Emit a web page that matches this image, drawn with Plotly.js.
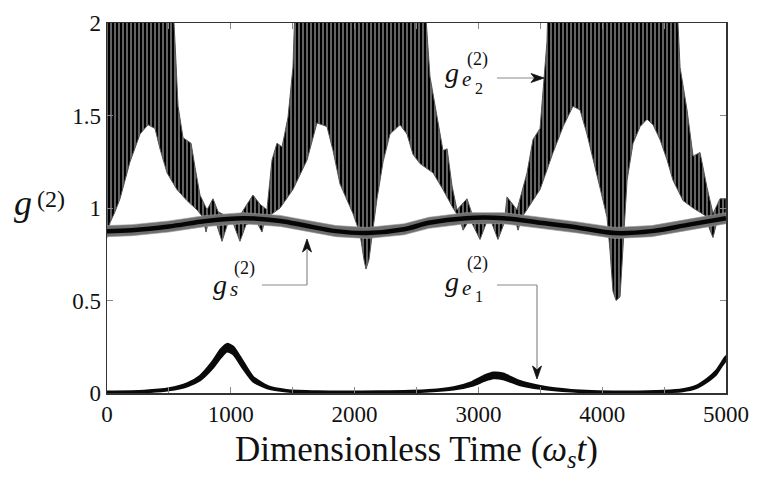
<!DOCTYPE html>
<html>
<head>
<meta charset="utf-8">
<script src="https://cdn.plot.ly/plotly-3.0.1.min.js"></script>
<style>html,body{margin:0;padding:0;background:#fff;}#chart{width:771px;height:493px;}</style>
</head>
<body>
<div id="chart"></div>
<script>
// ---- data ----
// g_e2: upper envelope of the fast oscillation (values > 2 are off-scale)
var ge2TopT = [0, 533, 549, 574, 614, 654, 679, 711, 751, 808, 856, 897, 953, 1074, 1179, 1236, 1292, 1333, 1373, 1414, 1462, 1502, 1519,
               2553, 2569, 2609, 2666, 2714, 2747, 2787, 2827, 2908, 2948, 3215, 3231, 3312, 3393, 3441, 3498, 3554, 3562,
               4605, 4629, 4685, 4734, 4790, 4847, 4895, 4952, 5000];
var ge2Top  = [2.1, 2.1, 1.9, 1.55, 1.38, 1.36, 1.35, 1.22, 1.07, 0.99, 1.05, 0.98, 0.96, 0.96, 1.07, 1.02, 0.99, 1.26, 1.35, 1.33, 1.49, 1.76, 2.1,
               2.1, 2.1, 1.71, 1.48, 1.31, 1.32, 1.12, 0.99, 1.05, 0.97, 0.96, 1.06, 0.99, 1.19, 1.37, 1.43, 1.9, 2.1,
               2.1, 1.76, 1.53, 1.28, 1.30, 1.11, 0.97, 1.05, 1.05];
// g_e2: lower envelope
var ge2LowT = [0, 24, 65, 105, 186, 267, 331, 388, 428, 485, 565, 646, 727, 775, 800, 824, 872, 929, 977, 1018, 1074, 1123, 1204, 1252, 1276,
               1398, 1502, 1616, 1696, 1777, 1826, 1882, 1987, 2044, 2076, 2092, 2116, 2141, 2181, 2230, 2286, 2367, 2423, 2472, 2528,
               2634, 2714, 2795, 2851, 2876, 2932, 3013, 3070, 3102, 3158, 3215, 3296, 3320, 3352, 3498, 3603, 3684, 3764, 3821, 3877,
               3926, 3982, 4039, 4063, 4087, 4112, 4144, 4168, 4201, 4249, 4306, 4362, 4411, 4467, 4524, 4572, 4653, 4734, 4831, 4871,
               4895, 4928, 5000];
var ge2Low  = [0.84, 0.92, 0.98, 1.05, 1.25, 1.40, 1.45, 1.43, 1.32, 1.19, 1.10, 1.04, 0.99, 0.95, 0.87, 0.94, 0.94, 0.82, 0.92, 0.92, 0.82, 0.91, 0.93, 0.87, 0.94,
               1.00, 1.10, 1.26, 1.46, 1.44, 1.31, 1.13, 0.97, 0.86, 0.72, 0.67, 0.72, 0.85, 1.05, 1.25, 1.40, 1.45, 1.40, 1.29, 1.24,
               1.19, 1.10, 1.00, 0.94, 0.88, 0.94, 0.83, 0.93, 0.93, 0.83, 0.93, 0.94, 0.88, 0.95, 1.10, 1.30, 1.44, 1.55, 1.53, 1.40,
               1.26, 1.11, 0.95, 0.77, 0.55, 0.50, 0.52, 0.75, 1.15, 1.35, 1.44, 1.48, 1.45, 1.37, 1.26, 1.15, 1.04, 1.00, 0.96, 0.88,
               0.84, 0.93, 0.97];

// g_s: noisy band (outer limits)
var gsT    = [0, 200, 500, 800, 1100, 1400, 1600, 1850, 2100, 2400, 2600, 2900, 3200, 3500, 3800, 4100, 4400, 4700, 5000];
var gsHigh = [0.905, 0.91, 0.93, 0.96, 0.975, 0.96, 0.935, 0.905, 0.895, 0.915, 0.95, 0.975, 0.975, 0.95, 0.925, 0.895, 0.905, 0.94, 0.975];
var gsLow  = [0.845, 0.85, 0.87, 0.90, 0.915, 0.90, 0.875, 0.845, 0.835, 0.855, 0.89, 0.915, 0.915, 0.89, 0.865, 0.835, 0.845, 0.88, 0.915];

// g_e1: thick line band
var ge1T    = [0, 300, 500, 650, 750, 850, 920, 970, 1020, 1100, 1180, 1300, 1450, 1700, 2200, 2600, 2800, 2950, 3050, 3120, 3200, 3330, 3500, 3750, 4150, 4500, 4650, 4750, 4850, 4920, 4970, 5000];
var ge1High = [0.008, 0.012, 0.025, 0.053, 0.092, 0.168, 0.237, 0.265, 0.25, 0.168, 0.087, 0.036, 0.016, 0.009, 0.009, 0.016, 0.031, 0.06, 0.094, 0.11, 0.105, 0.066, 0.037, 0.016, 0.008, 0.012, 0.02, 0.036, 0.078, 0.12, 0.17, 0.2];
var ge1Low  = [0.0, 0.004, 0.015, 0.037, 0.068, 0.132, 0.193, 0.225, 0.21, 0.132, 0.063, 0.024, 0.008, 0.001, 0.001, 0.008, 0.019, 0.04, 0.066, 0.08, 0.075, 0.044, 0.023, 0.008, 0.0, 0.004, 0.01, 0.024, 0.062, 0.1, 0.15, 0.18];

var xTickVals = [0, 1000, 2000, 3000, 4000, 5000];
var xTickText = ['0', '1000', '2000', '3000', '4000', '5000'];
var yTickVals = [0, 0.5, 1, 1.5, 2];
var yTickText = ['0', '0.5', '1', '1.5', '2'];

// ---- traces ----
var serif = '"Liberation Serif", "DejaVu Serif", serif';
function rev(a) { return a.slice().reverse(); }

var traces = [];
traces.push({
  x: ge2TopT.concat(rev(ge2LowT)),
  y: ge2Top.concat(rev(ge2Low)),
  mode: 'lines', fill: 'toself',
  fillcolor: '#555555',
  fillpattern: {shape: '|', size: 4, solidity: 0.5, fgcolor: '#000000', bgcolor: '#626262'},
  line: {color: '#555', width: 1},
  hoverinfo: 'skip', showlegend: false
});
traces.push({
  x: gsT.concat(rev(gsT)),
  y: gsHigh.concat(rev(gsLow)),
  mode: 'lines', fill: 'toself', fillcolor: '#6e6e6e',
  line: {color: '#999', width: 0.6},
  hoverinfo: 'skip', showlegend: false
});
traces.push({
  x: gsT,
  y: gsHigh.map(function (v, i) { return (v + gsLow[i]) / 2; }),
  mode: 'lines', line: {color: '#050505', width: 4.5, shape: 'spline'},
  hoverinfo: 'skip', showlegend: false
});
traces.push({
  x: ge1T.concat(rev(ge1T)),
  y: ge1High.concat(rev(ge1Low)),
  mode: 'lines', fill: 'toself', fillcolor: '#0a0a0a',
  line: {color: '#0a0a0a', width: 2.2, shape: 'spline', smoothing: 0.6},
  hoverinfo: 'skip', showlegend: false
});

// ---- layout helpers (pixel-based placement of labels) ----
function tx(px) { return (px - 107) * 5000 / 619; }
function vy(py) { return (393 - py) / 185; }
function label(txt, px, py, size, italic) {
  return {x: tx(px), y: vy(py), xref: 'x', yref: 'y', text: italic ? '<i>' + txt + '</i>' : txt,
          showarrow: false, xanchor: 'center', yanchor: 'middle',
          font: {family: serif, size: size, color: '#111'}};
}
function seg(p1x, p1y, p2x, p2y) {
  return {type: 'line', xref: 'x', yref: 'y', x0: tx(p1x), y0: vy(p1y), x1: tx(p2x), y1: vy(p2y),
          line: {color: '#8a8a8a', width: 1.2}};
}
function headPath(pts) {
  var d = pts.map(function (p, i) { return (i ? 'L' : 'M') + tx(p[0]) + ',' + vy(p[1]); }).join(' ') + ' Z';
  return {type: 'path', xref: 'x', yref: 'y', path: d, fillcolor: '#111', line: {color: '#111', width: 0.8}};
}

var annotations = [
  // g_e2 label
  label('g', 452, 72, 28, true), label('e', 466, 79, 21, true), label('2', 479, 88, 16, false), label('(2)', 477, 59, 18, false),
  // g_s label
  label('g', 220, 284, 28, true), label('s', 234, 289, 21, true), label('(2)', 244, 268, 18, false),
  // g_e1 label
  label('g', 452, 281, 28, true), label('e', 466, 288, 21, true), label('1', 479, 296, 16, false), label('(2)', 477, 263, 18, false)
];
// y-axis label g^(2)
annotations.push({xref: 'paper', yref: 'paper', x: (23 - 107) / 619, y: (393 - 203) / 370, text: '<i>g</i>',
  showarrow: false, xanchor: 'center', yanchor: 'middle', font: {family: serif, size: 36, color: '#111'}});
annotations.push({xref: 'paper', yref: 'paper', x: (51 - 107) / 619, y: (393 - 199) / 370, text: '(2)',
  showarrow: false, xanchor: 'center', yanchor: 'middle', font: {family: serif, size: 24, color: '#111'}});

var shapes = [
  seg(497, 78, 535, 78),
  seg(262, 285, 307, 285), seg(307, 285, 307, 250),
  seg(497, 285, 537, 285), seg(537, 285, 537, 368),
  headPath([[544, 78], [531, 73.5], [534.5, 78], [531, 82.5]]),
  headPath([[307, 239], [302.5, 252], [307, 248.5], [311.5, 252]]),
  headPath([[537, 379], [532.5, 366], [537, 369.5], [541.5, 366]])
];

var layout = {
  width: 771, height: 493,
  margin: {l: 107, r: 45, t: 23, b: 100},
  paper_bgcolor: '#ffffff', plot_bgcolor: '#ffffff',
  font: {family: serif, color: '#111'},
  xaxis: {
    range: [0, 5000], tickvals: xTickVals, ticktext: xTickText,
    ticks: 'inside', ticklen: 6, tickcolor: '#888', tickwidth: 1,
    minor: {dtick: 500, tick0: 0, ticks: 'inside', ticklen: 6, tickcolor: '#888', tickwidth: 1},
    showline: true, linecolor: '#333', linewidth: 1.5, mirror: 'ticks',
    showgrid: false, zeroline: false,
    tickfont: {family: serif, size: 23, color: '#111'},
    title: {text: 'Dimensionless Time (<i>ω<sub>s</sub>t</i>)', font: {family: serif, size: 35, color: '#111'}, standoff: 10}
  },
  yaxis: {
    range: [0, 2], tickvals: yTickVals, ticktext: yTickText,
    ticks: 'inside', ticklen: 6, tickcolor: '#888', tickwidth: 1,
    showline: true, linecolor: '#333', linewidth: 1.5, mirror: 'ticks',
    showgrid: false, zeroline: false,
    tickfont: {family: serif, size: 23, color: '#111'}
  },
  annotations: annotations,
  shapes: shapes,
  showlegend: false
};

Plotly.newPlot('chart', traces, layout, {staticPlot: true, displayModeBar: false});
</script>
</body>
</html>
